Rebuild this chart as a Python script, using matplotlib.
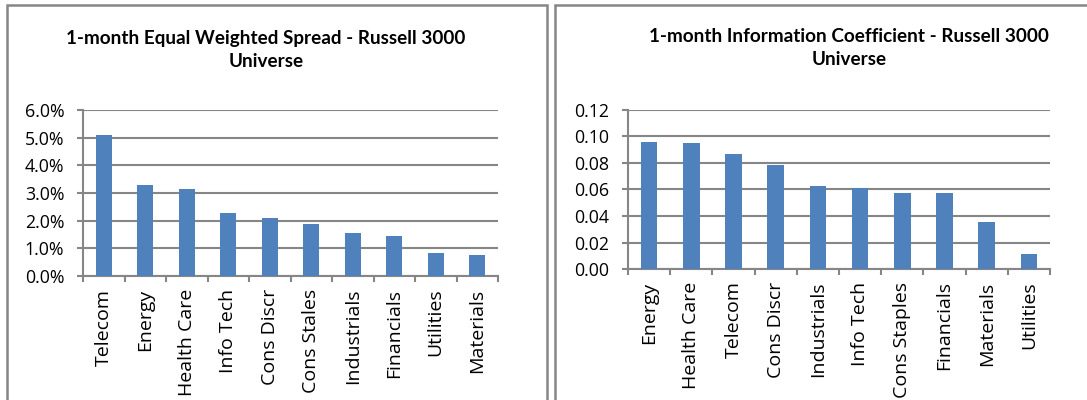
import matplotlib
matplotlib.use("Agg")
import matplotlib.pyplot as plt
from matplotlib.patches import Rectangle
from matplotlib.ticker import FixedLocator, FuncFormatter

plt.rcParams["font.family"] = ["Open Sans", "DejaVu Sans"]

# Data
spread_sectors = ["Telecom", "Energy", "Health Care", "Info Tech", "Cons Discr",
                  "Cons Stales", "Industrials", "Financials", "Utilities", "Materials"]
spread_values = [5.1, 3.28, 3.13, 2.29, 2.08, 1.89, 1.54, 1.43, 0.83, 0.75]  # percent

ic_sectors = ["Energy", "Health Care", "Telecom", "Cons Discr", "Industrials",
              "Info Tech", "Cons Staples", "Financials", "Materials", "Utilities"]
ic_values = [0.0956, 0.0953, 0.0867, 0.0782, 0.0625, 0.0610, 0.0575, 0.0570, 0.0355, 0.0111]

spread_title = "1-month Equal Weighted Spread - Russell 3000\nUniverse"
ic_title = "1-month Information Coefficient - Russell 3000\nUniverse"

BAR = "#4F81BD"
GRID = "#868686"
W, H = 1087, 400

fig = plt.figure(figsize=(W / 100, H / 100), dpi=100)


def px_axes(x0, y_top, x1, y_bot):
    return fig.add_axes([x0 / W, 1 - y_bot / H, (x1 - x0) / W, (y_bot - y_top) / H])


def style(ax, labels, values, ymax, step, fmt):
    n = len(labels)
    ax.bar(range(n), values, width=0.39, color=BAR, zorder=3)
    ax.set_xlim(-0.5, n - 0.5)
    ax.set_ylim(0, ymax)
    ticks = [i * step for i in range(int(round(ymax / step)) + 1)]
    ax.yaxis.set_major_locator(FixedLocator(ticks))
    ax.yaxis.set_major_formatter(FuncFormatter(fmt))
    ax.grid(axis="y", color=GRID, linewidth=1.5, zorder=0)
    for s in ["top", "right"]:
        ax.spines[s].set_visible(False)
    for s in ["left", "bottom"]:
        ax.spines[s].set_color(GRID)
        ax.spines[s].set_linewidth(1.5)
    ax.set_xticks(range(n))
    ax.set_xticklabels(labels, rotation=90, fontsize=14, color="#000000")
    ax.set_xticks([i - 0.5 for i in range(n + 1)], minor=True)
    ax.tick_params(axis="x", which="major", length=0, pad=9)
    ax.tick_params(axis="x", which="minor", length=4.5, width=1.5, color=GRID, direction="out")
    ax.tick_params(axis="y", length=4.5, width=1.5, color=GRID, labelsize=12.8, pad=9)
    for lab in ax.get_yticklabels():
        lab.set_color("#000000")


# Left panel
ax1 = px_axes(83, 110, 498, 276)
style(ax1, spread_sectors, spread_values, 6.0, 1.0, lambda v, _: f"{v:.1f}%")
fig.text(266 / W, 1 - 50 / H, spread_title, ha="center", va="center",
         fontsize=13.6, fontweight="bold", linespacing=1.43, family=["Lato", "DejaVu Sans"])

# Right panel
ax2 = px_axes(628, 110, 1050, 269)
style(ax2, ic_sectors, ic_values, 0.12, 0.02, lambda v, _: f"{v:.2f}")
fig.text(849 / W, 1 - 48 / H, ic_title, ha="center", va="center",
         fontsize=13.6, fontweight="bold", linespacing=1.43, family=["Lato", "DejaVu Sans"])

# Panel frames
for x0, x1 in [(7, 547), (555, 1095)]:
    fig.add_artist(Rectangle((x0 / W, -0.05), (x1 - x0) / W, 1.05 - 5 / H,
                             transform=fig.transFigure, fill=False,
                             edgecolor=GRID, linewidth=1.8))

fig.savefig("out.png", dpi=100)
